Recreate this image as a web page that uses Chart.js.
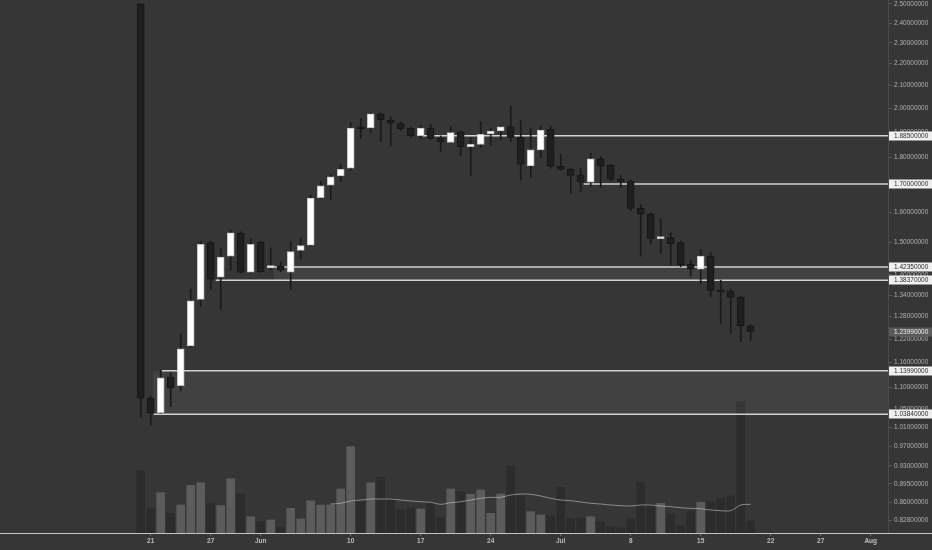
<!DOCTYPE html>
<html>
<head>
<meta charset="utf-8">
<script src="https://cdn.jsdelivr.net/npm/chart.js@4.4.0/dist/chart.umd.min.js"></script>
<style>
  html, body { margin: 0; padding: 0; background: #363636; }
  #wrap { width: 932px; height: 550px; }
</style>
</head>
<body>
<div id="wrap"><canvas id="chart" width="932" height="550"></canvas></div>
<script>
// Daily candles
const dates = [
  '2019-05-20','2019-05-21','2019-05-22','2019-05-23','2019-05-24','2019-05-25','2019-05-26','2019-05-27','2019-05-28','2019-05-29','2019-05-30','2019-05-31',
  '2019-06-01','2019-06-02','2019-06-03','2019-06-04','2019-06-05','2019-06-06','2019-06-07','2019-06-08','2019-06-09','2019-06-10','2019-06-11','2019-06-12',
  '2019-06-13','2019-06-14','2019-06-15','2019-06-16','2019-06-17','2019-06-18','2019-06-19','2019-06-20','2019-06-21','2019-06-22','2019-06-23','2019-06-24',
  '2019-06-25','2019-06-26','2019-06-27','2019-06-28','2019-06-29','2019-06-30','2019-07-01','2019-07-02','2019-07-03','2019-07-04','2019-07-05','2019-07-06',
  '2019-07-07','2019-07-08','2019-07-09','2019-07-10','2019-07-11','2019-07-12','2019-07-13','2019-07-14','2019-07-15','2019-07-16','2019-07-17','2019-07-18',
  '2019-07-19','2019-07-20'
];
const open = [
  2.500, 1.075, 1.042, 1.125, 1.104, 1.202, 1.328, 1.500, 1.393, 1.457, 1.530, 1.408,
  1.501, 1.421, 1.426, 1.408, 1.475, 1.492, 1.651, 1.696, 1.730, 1.759, 1.920, 1.917,
  1.976, 1.949, 1.935, 1.916, 1.886, 1.916, 1.875, 1.859, 1.900, 1.842, 1.851, 1.893,
  1.905, 1.922, 1.879, 1.768, 1.829, 1.912, 1.767, 1.756, 1.734, 1.707, 1.795, 1.770,
  1.719, 1.709, 1.614, 1.594, 1.5125, 1.516, 1.500, 1.432, 1.417, 1.457, 1.354, 1.351,
  1.335, 1.255
];
const high = [
  2.500, 1.080, 1.142, 1.135, 1.233, 1.358, 1.505, 1.505, 1.483, 1.541, 1.535, 1.512,
  1.505, 1.483, 1.439, 1.503, 1.515, 1.661, 1.711, 1.737, 1.774, 1.939, 1.957, 1.981,
  1.980, 1.964, 1.942, 1.921, 1.929, 1.932, 1.885, 1.925, 1.905, 1.877, 1.943, 1.916,
  1.929, 2.010, 1.950, 1.916, 1.925, 1.925, 1.813, 1.758, 1.759, 1.816, 1.803, 1.774,
  1.732, 1.715, 1.626, 1.599, 1.577, 1.532, 1.505, 1.445, 1.476, 1.468, 1.384, 1.358,
  1.338, 1.258
];
const low = [
  1.032, 1.015, 1.041, 1.056, 1.092, 1.198, 1.307, 1.355, 1.301, 1.414, 1.405, 1.405,
  1.408, 1.414, 1.409, 1.355, 1.448, 1.488, 1.648, 1.643, 1.709, 1.752, 1.873, 1.900,
  1.862, 1.845, 1.906, 1.880, 1.873, 1.871, 1.822, 1.857, 1.807, 1.730, 1.838, 1.846,
  1.871, 1.862, 1.715, 1.724, 1.799, 1.759, 1.752, 1.667, 1.672, 1.693, 1.688, 1.711,
  1.688, 1.606, 1.457, 1.495, 1.466, 1.430, 1.424, 1.396, 1.373, 1.336, 1.262, 1.235,
  1.213, 1.216
];
const close = [
  1.075, 1.041, 1.123, 1.099, 1.195, 1.324, 1.494, 1.387, 1.454, 1.532, 1.408, 1.494,
  1.409, 1.428, 1.414, 1.471, 1.490, 1.650, 1.694, 1.727, 1.755, 1.917, 1.914, 1.976,
  1.950, 1.937, 1.914, 1.885, 1.917, 1.875, 1.862, 1.898, 1.842, 1.851, 1.891, 1.904,
  1.922, 1.879, 1.774, 1.829, 1.909, 1.767, 1.754, 1.732, 1.707, 1.795, 1.768, 1.718,
  1.710, 1.614, 1.594, 1.513, 1.5157, 1.496, 1.431, 1.417, 1.457, 1.354, 1.350, 1.334,
  1.255, 1.2399
];
const volume = [
  62.3, 24.7, 40.3, 19.7, 28, 47.7, 50.3, 29.7, 27.3, 54.3, 39, 16.3,
  11.3, 13, 6, 24.7, 14, 32.3, 28, 28, 44, 86.3, 31, 50.3,
  55.7, 35, 23, 25, 24, 30, 15, 44, 41.3, 38.7, 43, 19.7,
  39, 67, 37, 21.3, 18, 17, 45.7, 14.7, 15, 16.3, 11.3, 6.3,
  5, 14.7, 50.7, 28.7, 29.7, 19, 7, 21.3, 30.7, 31.3, 34.7, 37,
  131.3, 12
];
// 20-day volume average
const volumeMa = [
  null, null, null, null, null, null, null, null, null, null, null, null,
  null, null, null, null, null, null, null, 29, 29.7, 32, 33, 34,
  34, 34, 33, 32, 31.3, 30.7, 28.7, 30.3, 31.3, 33, 34.7, 35.7,
  35.7, 38, 39, 38.7, 37, 34.7, 33, 32.3, 31, 29.7, 29, 28,
  27.3, 27, 28, 28, 27, 26.3, 25.3, 24.7, 24.3, 23, 22.3, 22.3,
  28, 28.7
];

// Horizontal levels (start given in days from May 21)
const levels = [1.885, 1.70, 1.4235, 1.3837, 1.1399, 1.0384];
const levelStartDay = [27.2, 43.3, 12.3, 6.5, 1.1, 0.3];
const bandTop = [1.4235, 1.1399];
const bandBottom = [1.3837, 1.0384];
const bandStartDay = [12.3, 0.2];
const lastPrice = 1.2399;

// Axes
const yTicks = [2.5, 2.4, 2.3, 2.2, 2.1, 2.0, 1.9, 1.8, 1.7, 1.6, 1.5, 1.4, 1.34, 1.28, 1.22, 1.16, 1.10, 1.05, 1.01, 0.97, 0.93, 0.895, 0.86, 0.828];
const xTickDates = ['2019-05-21','2019-05-27','2019-06-01','2019-06-10','2019-06-17','2019-06-24','2019-07-01','2019-07-08','2019-07-15','2019-07-22','2019-07-27','2019-08-01'];
const xTickLabels = ['21', '27', 'Jun', '10', '17', '24', 'Jul', '8', '15', '22', '27', 'Aug'];

const FONT = '"Liberation Sans", Arial, sans-serif';
const baseDay = Date.parse('2019-05-21');
function dayIndex(d) { return (Date.parse(d) - baseDay) / 864e5; }

const xMin = -15.07, xMax = 73.73;
const X = dates.map(dayIndex);
const rise = close.map((c, i) => c >= open[i]);

const datasets = [];
// candle bodies
datasets.push({
  type: 'bar', label: 'Body', yAxisID: 'y', order: 1, grouped: false,
  data: X.map((x, i) => ({ x, y: [open[i], close[i]] })),
  backgroundColor: rise.map(r => r ? '#ffffff' : '#1f1f1f'),
  borderColor: rise.map(r => r ? '#bdbdbd' : '#151515'),
  borderWidth: 1, borderSkipped: false, barThickness: 7, minBarLength: 2
});
// wicks
datasets.push({
  type: 'bar', label: 'Wick', yAxisID: 'y', order: 2, grouped: false,
  data: X.map((x, i) => ({ x, y: [low[i], high[i]] })),
  backgroundColor: '#1a1a1a', borderWidth: 0, barThickness: 1
});
// level lines
levels.forEach((v, i) => {
  datasets.push({
    type: 'line', label: 'Level ' + v, yAxisID: 'y', order: 3,
    data: [{ x: levelStartDay[i], y: v }, { x: xMax, y: v }],
    borderColor: '#d2d2d2', borderWidth: 1.5, pointRadius: 0, fill: false
  });
});
// shaded zones
bandTop.forEach((v, i) => {
  datasets.push({
    type: 'line', label: 'Zone top', yAxisID: 'y', order: 4,
    data: [{ x: bandStartDay[i], y: v }, { x: xMax, y: v }],
    borderColor: 'rgba(0,0,0,0)', borderWidth: 1, pointRadius: 0,
    fill: '+1', backgroundColor: 'rgba(255,255,255,0.055)'
  });
  datasets.push({
    type: 'line', label: 'Zone bottom', yAxisID: 'y', order: 4,
    data: [{ x: bandStartDay[i], y: bandBottom[i] }, { x: xMax, y: bandBottom[i] }],
    borderColor: 'rgba(0,0,0,0)', borderWidth: 1, pointRadius: 0, fill: false
  });
});
// volume MA
datasets.push({
  type: 'line', label: 'Vol MA', yAxisID: 'yv', order: 5,
  data: X.map((x, i) => ({ x, y: volumeMa[i] })),
  borderColor: 'rgba(210,210,210,0.55)', borderWidth: 1, pointRadius: 0, tension: 0.3, fill: false
});
// volume
datasets.push({
  type: 'bar', label: 'Volume', yAxisID: 'yv', order: 6, grouped: false,
  data: X.map((x, i) => ({ x, y: volume[i] })),
  backgroundColor: rise.map(r => r ? '#5c5c5c' : '#2c2c2c'),
  borderWidth: 0, barThickness: 8
});

// price tags on the right axis + bottom rule
const tagsPlugin = {
  id: 'tags',
  afterDraw(chart) {
    const { ctx, chartArea, scales } = chart;
    const y = scales.y;
    ctx.save();
    ctx.font = '6.5px ' + FONT;
    ctx.textBaseline = 'middle';
    ctx.textAlign = 'left';
    levels.forEach(v => {
      const py = Math.round(y.getPixelForValue(v));
      ctx.fillStyle = '#f0f0f0';
      ctx.fillRect(chartArea.right + 1, py - 4.5, 44, 9);
      ctx.fillStyle = '#2b2b2b';
      ctx.fillText(v.toFixed(8), chartArea.right + 6, py + 0.5);
    });
    const lp = Math.round(y.getPixelForValue(lastPrice));
    ctx.fillStyle = '#5a5a5a';
    ctx.fillRect(chartArea.right + 1, lp - 4.5, 44, 9);
    ctx.fillStyle = '#f2f2f2';
    ctx.fillText(lastPrice.toFixed(8), chartArea.right + 6, lp + 0.5);
    ctx.strokeStyle = '#c4c4c4';
    ctx.lineWidth = 1;
    ctx.beginPath();
    ctx.moveTo(0, chartArea.bottom + 0.5);
    ctx.lineTo(chart.width, chartArea.bottom + 0.5);
    ctx.stroke();
    ctx.restore();
  }
};

Chart.defaults.font.family = FONT;
const chart = new Chart(document.getElementById('chart').getContext('2d'), {
  type: 'bar',
  data: { datasets },
  plugins: [tagsPlugin],
  options: {
    responsive: false,
    devicePixelRatio: 1,
    animation: false,
    layout: { padding: 0 },
    plugins: { legend: { display: false }, tooltip: { enabled: false } },
    scales: {
      x: {
        type: 'linear', min: xMin, max: xMax, offset: false,
        grid: { drawOnChartArea: false, drawTicks: true, tickLength: 3, color: '#6a6a6a', offset: false },
        border: { display: false },
        afterBuildTicks: s => { s.ticks = xTickDates.map(d => ({ value: dayIndex(d) })); },
        afterFit: s => { s.height = 17; s.paddingLeft = 0; s.paddingRight = 0; },
        ticks: {
          autoSkip: false, maxRotation: 0, padding: 1, color: '#bdbdbd',
          font: { size: 6.5, weight: 'bold' },
          callback: (v, i) => xTickLabels[i]
        }
      },
      y: {
        type: 'logarithmic', position: 'right', min: 0.8054, max: 2.5215,
        grid: { drawOnChartArea: false, tickLength: 4, color: '#5a5a5a' },
        border: { color: '#4a4a4a' },
        afterBuildTicks: s => { s.ticks = yTicks.map(v => ({ value: v })); },
        afterFit: s => { s.width = 44; s.paddingTop = 0; s.paddingBottom = 0; },
        ticks: {
          autoSkip: false, padding: 2, color: '#b0b0b0',
          font: { size: 6.5 },
          callback: v => Number(v).toFixed(8)
        }
      },
      yv: { type: 'linear', display: false, min: 0, max: 533 }
    }
  }
});
</script>
</body>
</html>
